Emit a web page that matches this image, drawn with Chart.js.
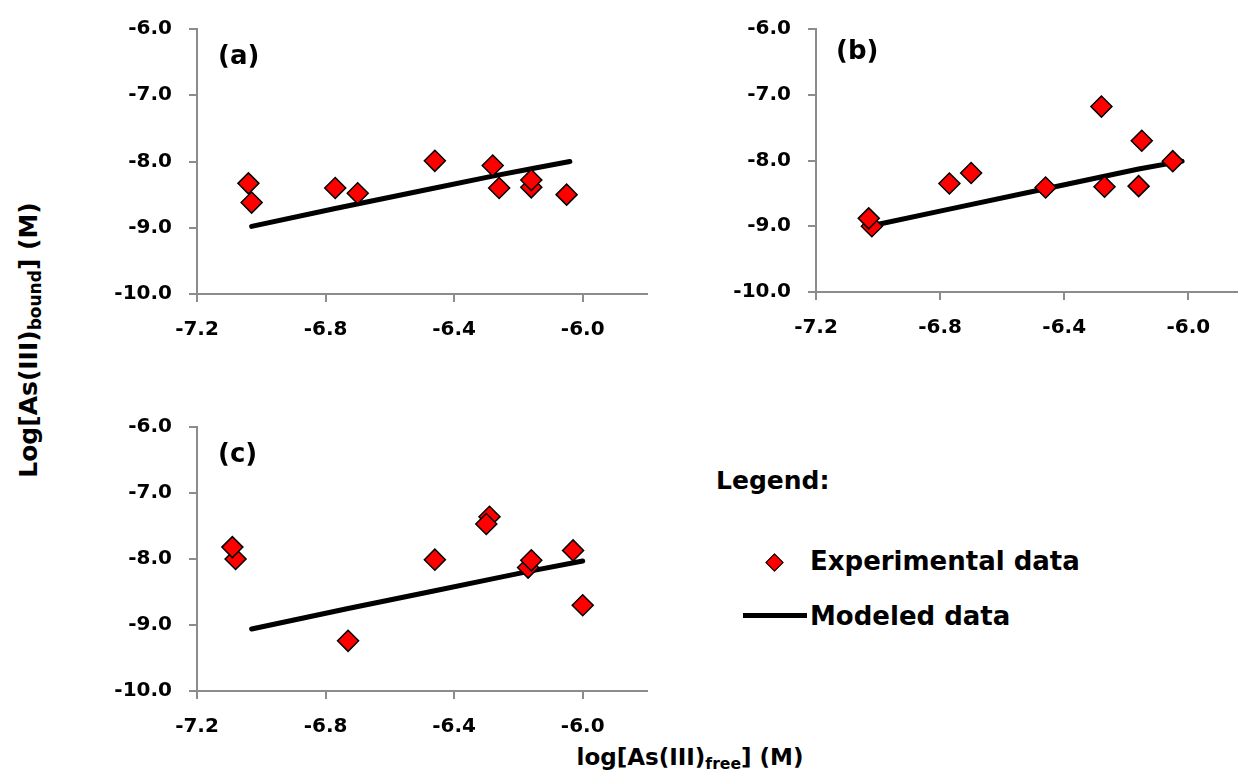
<!DOCTYPE html>
<html><head><meta charset="utf-8">
<script src="https://cdn.jsdelivr.net/npm/chart.js@4.4.1/dist/chart.umd.min.js"></script>
<style>
body{margin:0;background:#fff;width:1249px;height:776px;overflow:hidden;position:relative;font-family:"DejaVu Sans",sans-serif;font-weight:bold;color:#000}
canvas{position:absolute}
.t{position:absolute;white-space:nowrap;line-height:1}
sub{font-size:0.68em;vertical-align:-0.28em;line-height:0}
</style></head><body>
<canvas id="ca" width="560" height="340" style="left:100px;top:0px"></canvas>
<canvas id="cb" width="530" height="340" style="left:719px;top:0px"></canvas>
<canvas id="cc" width="560" height="340" style="left:100px;top:398px"></canvas>

<div class="t" style="left:218px;top:42px;font-size:26px">(a)</div>
<div class="t" style="left:836px;top:37px;font-size:26px">(b)</div>
<div class="t" style="left:218px;top:440px;font-size:26px">(c)</div>

<div class="t" style="left:716px;top:468px;font-size:25px">Legend:</div>
<div style="position:absolute;left:768px;top:556px;width:11px;height:11px;background:#ff0000;border:1px solid #000;transform:rotate(45deg)"></div>
<div class="t" style="left:810px;top:548px;font-size:26px">Experimental data</div>
<div style="position:absolute;left:743px;top:613px;width:64px;height:5px;background:#000"></div>
<div class="t" style="left:810px;top:603px;font-size:26px">Modeled data</div>

<div class="t" style="left:690px;top:746px;font-size:23px;transform:translateX(-50%)">log[As(III)<sub>free</sub>] (M)</div>
<div class="t" style="left:28px;top:340px;font-size:25px;transform:translate(-50%,-50%) rotate(-90deg)">Log[As(III)<sub>bound</sub>] (M)</div>

<script>
// x-axis and y-axis tick labels
const xTicks = [-7.2, -6.8, -6.4, -6.0];
const yTicks = [-10.0, -9.0, -8.0, -7.0, -6.0];

// Panel (a)
const expA_x = [-7.04, -7.03, -6.77, -6.70, -6.46, -6.28, -6.26, -6.16, -6.16, -6.05];
const expA_y = [-8.33, -8.62, -8.40, -8.48, -7.99, -8.06, -8.40, -8.39, -8.28, -8.50];
const modA_x = [-7.03, -6.77, -6.46, -6.28, -6.16, -6.04];
const modA_y = [-8.98, -8.71, -8.40, -8.22, -8.11, -8.00];

// Panel (b)
const expB_x = [-7.02, -7.03, -6.77, -6.70, -6.46, -6.28, -6.27, -6.15, -6.16, -6.05];
const expB_y = [-9.00, -8.88, -8.35, -8.19, -8.41, -7.18, -8.40, -7.70, -8.39, -8.01];
const modB_x = [-7.01, -6.77, -6.46, -6.27, -6.16, -6.02];
const modB_y = [-8.98, -8.74, -8.43, -8.24, -8.13, -8.01];

// Panel (c)
const expC_x = [-7.08, -7.09, -6.46, -6.73, -6.29, -6.30, -6.17, -6.16, -6.03, -6.00];
const expC_y = [-8.00, -7.82, -8.01, -9.24, -7.36, -7.47, -8.13, -8.02, -7.87, -8.70];
const modC_x = [-7.03, -6.73, -6.46, -6.27, -6.16, -6.00];
const modC_y = [-9.06, -8.75, -8.48, -8.29, -8.18, -8.03];

const zip = (xs, ys) => xs.map((x, i) => ({x: x, y: ys[i]}));
const axisGrey = '#8c8c8c';
const tickFont = {family: '"DejaVu Sans", sans-serif', weight: 'bold', size: 20};

function makeChart(id, ex, ey, mx, my, xMax, padTop, padRight, xAxisH) {
  return new Chart(document.getElementById(id), {
    type: 'scatter',
    data: {
      datasets: [
        {
          label: 'Experimental data',
          data: zip(ex, ey),
          pointStyle: 'rectRot',
          pointRadius: 10.5,
          pointHoverRadius: 10.5,
          backgroundColor: '#ff0000',
          borderColor: '#000000',
          borderWidth: 1.5,
          showLine: false
        },
        {
          label: 'Modeled data',
          data: zip(mx, my),
          showLine: true,
          borderColor: '#000000',
          borderWidth: 5,
          borderCapStyle: 'round',
          borderJoinStyle: 'round',
          pointRadius: 0,
          pointHoverRadius: 0,
          fill: false
        }
      ]
    },
    options: {
      responsive: false,
      animation: false,
      events: [],
      layout: {padding: {top: padTop, right: padRight, left: 0, bottom: 0}},
      plugins: {legend: {display: false}, tooltip: {enabled: false}},
      scales: {
        x: {
          type: 'linear',
          min: -7.2,
          max: xMax,
          afterBuildTicks: s => { s.ticks = xTicks.map(v => ({value: v})); },
          afterFit: s => { s.height = xAxisH; },
          grid: {display: true, drawOnChartArea: false, drawTicks: true, tickLength: 8, color: axisGrey, lineWidth: 2},
          border: {display: true, color: axisGrey, width: 2},
          ticks: {font: tickFont, color: '#000', padding: 16, maxRotation: 0, callback: v => v.toFixed(1)}
        },
        y: {
          type: 'linear',
          min: -10,
          max: -6,
          afterBuildTicks: s => { s.ticks = yTicks.map(v => ({value: v})); },
          afterFit: s => { s.width = 97; },
          grid: {display: true, drawOnChartArea: false, drawTicks: true, tickLength: 8, color: axisGrey, lineWidth: 2},
          border: {display: true, color: axisGrey, width: 2},
          ticks: {font: tickFont, color: '#000', padding: 17, callback: v => v.toFixed(1)}
        }
      }
    }
  });
}

makeChart('ca', expA_x, expA_y, modA_x, modA_y, -5.8, 26, 13, 46);
makeChart('cb', expB_x, expB_y, modB_x, modB_y, -5.843, 25, 0, 48);
makeChart('cc', expC_x, expC_y, modC_x, modC_y, -5.8, 26, 13, 47);
</script>
</body></html>
